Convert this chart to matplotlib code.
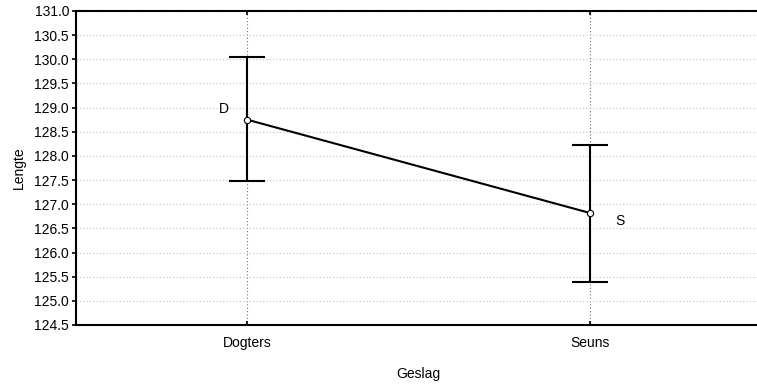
import matplotlib.pyplot as plt
import numpy as np

plt.rcParams['font.family'] = ['Liberation Sans', 'DejaVu Sans']

######################### DATA ################################################

groups = ['Dogters', 'Seuns']
short = ['D', 'S']
means = [128.75, 126.82]
upper = [130.05, 128.22]
lower = [127.48, 125.39]

yticks = np.arange(124.5, 131.01, 0.5)

######################### FIG #################################################

fig = plt.figure(figsize=(7.57, 3.84), dpi=100)
# right spine of the original is cut off by the image edge
ax = fig.add_axes([76 / 757, 1 - 325 / 384, 685 / 757, 314 / 384])

x = np.arange(len(groups))
m = np.array(means)
err = [m - np.array(lower), np.array(upper) - m]

ax.grid(axis='y', color='0.75', linestyle=(0, (1, 2)), linewidth=0.8)
for xi in x:
    ax.axvline(xi, color='0.45', linestyle=(0, (1, 2)), linewidth=0.8, zorder=1)

ax.errorbar(x, m, yerr=err, fmt='none', ecolor='k', elinewidth=1.5,
            capsize=13, capthick=1.5, zorder=3)
ax.plot(x, m, color='k', linewidth=1.5, marker='o', markersize=4.5,
        markerfacecolor='white', markeredgecolor='k', markeredgewidth=0.8,
        zorder=4)

offsets = [(-17, 8), (22, -6)]
for xi, yi, lab, off in zip(x, m, short, offsets):
    ax.annotate(lab, (xi, yi), xytext=off, textcoords='offset points',
                ha='center', va='center', fontsize=10)

ax.set_xlim(-0.5, 1.5)
ax.set_ylim(124.5, 131.0)
ax.set_yticks(yticks)
ax.set_yticklabels(['%.1f' % v for v in yticks])
ax.set_xticks(x)
ax.set_xticklabels(groups)

ax.tick_params(axis='y', direction='out', length=3, width=1.2, labelsize=10, pad=2)
ax.tick_params(axis='x', direction='in', length=3, width=1.2, labelsize=10,
               pad=8, top=True)
for s in ax.spines.values():
    s.set_linewidth(1.5)

ax.set_xlabel('Geslag', fontsize=10, labelpad=12)
ax.set_ylabel('Lengte', fontsize=10, labelpad=6)

fig.savefig('out.png', dpi=100)
plt.close()
